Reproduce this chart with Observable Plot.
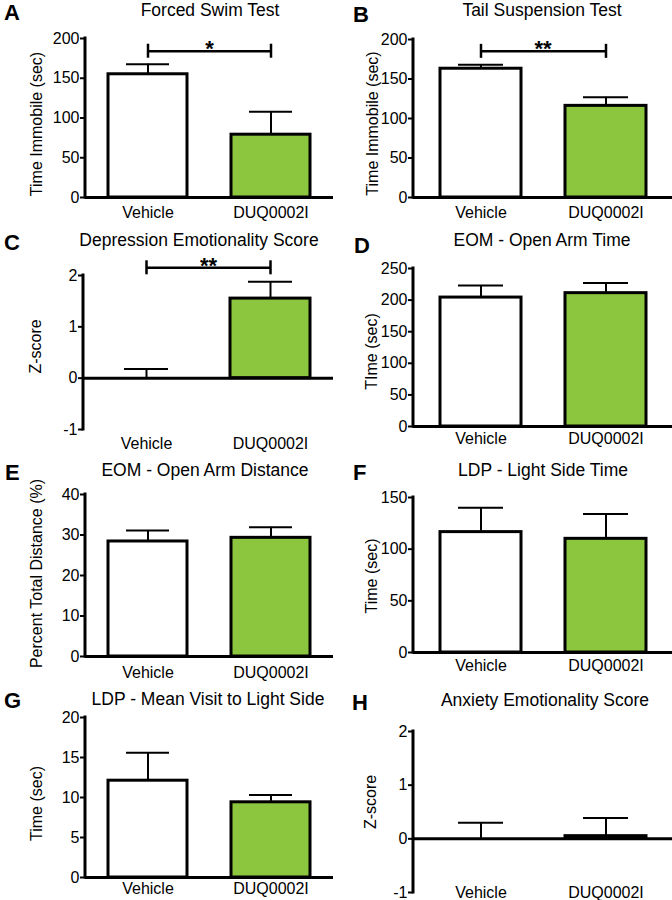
<!DOCTYPE html>
<html><head><meta charset="utf-8">
<script src="https://cdn.jsdelivr.net/npm/d3@7"></script>
<script src="https://cdn.jsdelivr.net/npm/@observablehq/plot@0.6"></script>
<style>
body{margin:0;background:#fff;}
#fig{position:relative;width:672px;height:900px;overflow:hidden;background:#fff;font-family:"Liberation Sans",Arial,Helvetica,sans-serif;color:#000;}
.cell{position:absolute;width:336px;height:225px;}
.cell svg{position:absolute;left:0;top:0;overflow:visible;}
.letter{position:absolute;font-weight:bold;font-size:22px;line-height:22px;}
.title{position:absolute;width:320px;text-align:center;font-size:17.5px;line-height:17.5px;white-space:nowrap;}
</style></head><body><div id="fig"></div>
<script>
// ---- data ----
const groups = ["Vehicle", "DUQ0002I"];
const barFills = ["#ffffff", "#8cc63f"];
const panelLetters = ["A", "B", "C", "D", "E", "F", "G", "H"];
const panelTitles = ["Forced Swim Test", "Tail Suspension Test", "Depression Emotionality Score", "EOM - Open Arm Time",
  "EOM - Open Arm Distance", "LDP - Light Side Time", "LDP - Mean Visit to Light Side", "Anxiety Emotionality Score"];
const yLabels = ["Time Immobile (sec)", "Time Immobile (sec)", "Z-score", "TIme (sec)",
  "Percent Total Distance (%)", "Time (sec)", "Time (sec)", "Z-score"];
const yDomains = [[0, 200], [0, 200], [-1, 2], [0, 250], [0, 40], [0, 150], [0, 20], [-1, 2]];
const yTicks = [[0, 50, 100, 150, 200], [0, 50, 100, 150, 200], [-1, 0, 1, 2], [0, 50, 100, 150, 200, 250],
  [0, 10, 20, 30, 40], [0, 50, 100, 150], [0, 5, 10, 15, 20], [-1, 0, 1, 2]];
const fstMean = [155, 79],   fstSem = [12.5, 29];
const tstMean = [163, 116],  tstSem = [5, 11];
const desMean = [0, 1.55],   desSem = [0.18, 0.33];
const oatMean = [204, 211],  oatSem = [19, 16];
const oadMean = [28.4, 29.3], oadSem = [2.7, 2.6];
const lstMean = [116.5, 110], lstSem = [23.5, 24];
const mvlMean = [12.1, 9.4], mvlSem = [3.5, 0.9];
const aesMean = [0, 0.05],   aesSem = [0.30, 0.34];
const sigA = [{from: "Vehicle", to: "DUQ0002I", y: 184, label: "*"}];
const sigB = [{from: "Vehicle", to: "DUQ0002I", y: 185, label: "**"}];
const sigC = [{from: "Vehicle", to: "DUQ0002I", y: 2.15, label: "**"}];

const means = [fstMean, tstMean, desMean, oatMean, oadMean, lstMean, mvlMean, aesMean];
const sems = [fstSem, tstSem, desSem, oatSem, oadSem, lstSem, mvlSem, aesSem];
const sigs = [sigA, sigB, sigC, [], [], [], [], []];

// ---- layout (pixels) ----
const layout = [
  {left: 0,   top: 0,   ml: 85, mr: 3, mt: 38, mb: 28, xPad: 9,  ylx: 36, yldy: 6,  tx: 210, ty: 11,  lx: 4,   ly: 2},
  {left: 336, top: 0,   ml: 77, mr: 0, mt: 39, mb: 28, xPad: 9,  ylx: 36, yldy: 5,  tx: 542, ty: 11,  lx: 353, ly: 4},
  {left: 0,   top: 225, ml: 83, mr: 3, mt: 50, mb: 21, xPad: 8,  ylx: 35, yldy: -6, tx: 199, ty: 241, lx: 4,   ly: 232},
  {left: 336, top: 225, ml: 77, mr: 0, mt: 43, mb: 24, xPad: 6,  ylx: 35, yldy: 4,  tx: 542, ty: 241, lx: 354, ly: 235},
  {left: 0,   top: 450, ml: 85, mr: 3, mt: 44, mb: 19, xPad: 10, ylx: 36, yldy: -2, tx: 205, ty: 471, lx: 5,   ly: 462},
  {left: 336, top: 450, ml: 77, mr: 0, mt: 47, mb: 23, xPad: 7,  ylx: 35, yldy: 1,  tx: 543, ty: 471, lx: 353, ly: 462},
  {left: 0,   top: 675, ml: 85, mr: 3, mt: 42, mb: 23, xPad: 5,  ylx: 36, yldy: 6,  tx: 208, ty: 700, lx: 4,   ly: 690},
  {left: 336, top: 675, ml: 77, mr: 0, mt: 56, mb: 8,  xPad: -6, ylx: 34, yldy: -10, tx: 545, ty: 701, lx: 352, ly: 692}
];

const fig = document.getElementById("fig");

function yAxisLine(domain) {
  return (index, scales, values, dims) => {
    const ln = document.createElementNS("http://www.w3.org/2000/svg", "line");
    ln.setAttribute("x1", dims.marginLeft);
    ln.setAttribute("x2", dims.marginLeft);
    ln.setAttribute("y1", scales.y(domain[0]));
    ln.setAttribute("y2", scales.y(domain[1]));
    ln.setAttribute("stroke", "black");
    ln.setAttribute("stroke-width", 3);
    ln.setAttribute("stroke-linecap", "square");
    return ln;
  };
}

panelLetters.forEach((letter, k) => {
  const L = layout[k];
  const data = groups.map((g, i) => ({group: g, mean: means[k][i], sem: sems[k][i]}));
  const errTop = d => d.mean + d.sem;
  const sig = sigs[k];
  const right = L.left > 0;
  const ends = sig.flatMap(s => [{g: s.from, y: s.y}, {g: s.to, y: s.y}]);

  const chart = Plot.plot({
    width: 336, height: 225,
    marginLeft: L.ml, marginRight: L.mr, marginTop: L.mt, marginBottom: L.mb,
    style: {fontFamily: '"Liberation Sans", Arial, Helvetica, sans-serif', fontSize: "16px", color: "black", background: "transparent", overflow: "visible"},
    x: {domain: groups, paddingInner: 0.355, paddingOuter: right ? 0.21 : 0.183},
    y: {domain: yDomains[k]},
    color: {domain: groups, range: barFills},
    marks: [
      Plot.barY(data, {x: "group", y1: 0, y2: "mean", fill: "group", stroke: "black", strokeWidth: 3}),
      Plot.ruleX(data, {x: "group", y1: "mean", y2: errTop, stroke: "black", strokeWidth: 2}),
      Plot.tickY(data, {x: "group", y: errTop, stroke: "black", strokeWidth: 2, insetLeft: 18, insetRight: 18}),
      Plot.ruleY([0], {stroke: "black", strokeWidth: 3}),
      yAxisLine(yDomains[k]),
      Plot.axisY(yTicks[k], {tickSize: 5, tickPadding: 1, strokeWidth: 2, fontSize: 16, label: null, tickFormat: d => String(d)}),
      Plot.axisX({tickSize: 0, tickPadding: L.xPad, fontSize: 16, label: null}),
      Plot.text([yLabels[k]], {frameAnchor: "left", textAnchor: "middle", rotate: -90, dx: L.ylx - L.ml, dy: L.yldy, fontSize: 16}),
      Plot.link(sig, {x1: "from", x2: "to", y1: "y", y2: "y", stroke: "black", strokeWidth: 2.5}),
      Plot.ruleX(ends, {x: "g", y1: "y", y2: "y", insetTop: -7, insetBottom: -7, stroke: "black", strokeWidth: 2.5}),
      Plot.text(sig, {y: "y", text: "label", frameAnchor: "middle", dy: -2, fontSize: 22, fontWeight: "bold"})
    ]
  });

  const cell = document.createElement("div");
  cell.className = "cell";
  cell.style.left = L.left + "px";
  cell.style.top = L.top + "px";
  cell.appendChild(chart);
  fig.appendChild(cell);

  const lt = document.createElement("div");
  lt.className = "letter";
  lt.textContent = letter;
  lt.style.left = L.lx + "px";
  lt.style.top = L.ly + "px";
  fig.appendChild(lt);

  const tt = document.createElement("div");
  tt.className = "title";
  tt.textContent = panelTitles[k];
  tt.style.left = (L.tx - 160) + "px";
  tt.style.top = (L.ty - 8.6) + "px";
  fig.appendChild(tt);
});
</script></body></html>
